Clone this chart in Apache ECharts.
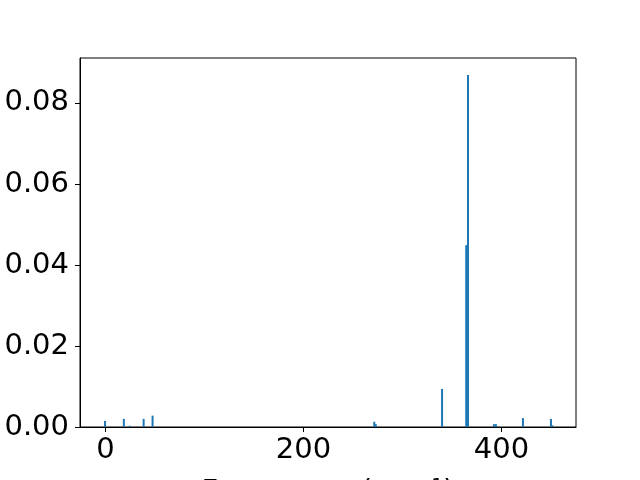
<!DOCTYPE html>
<html>
<head>
<meta charset="utf-8">
<script src="https://cdn.jsdelivr.net/npm/echarts@6/dist/echarts.min.js"></script>
<style>html,body{margin:0;padding:0;background:#fff}#c{width:640px;height:480px}</style>
</head>
<body>
<div id="c"></div>
<script>
// Frequencies (cm^-1) and intensities
var frequencies = [-0.5, 18.5, 24.4, 38.5, 47.5, 271.5, 273, 340, 364.4, 366.2, 392.4, 394.4, 421.7, 450, 451.5];
var intensities = [0.0015, 0.0020, 0.0003, 0.0020, 0.0028, 0.0013, 0.0007, 0.0094, 0.0449, 0.0869, 0.0007, 0.0007, 0.0022, 0.0020, 0.0004];
var xTicks = [0, 200, 400];
var yTicks = [0, 0.02, 0.04, 0.06, 0.08];

var data = frequencies.map(function (f, i) { return [f, intensities[i]]; });

var chart = echarts.init(document.getElementById('c'), null, {renderer: 'canvas'});
var font = 'DejaVu Sans';
chart.setOption({
  animation: false,
  backgroundColor: '#ffffff',
  grid: {left: 80, right: 64, top: 58, bottom: 53, containLabel: false, outerBoundsMode: 'none',
    show: true, borderColor: '#000', borderWidth: 1, backgroundColor: 'transparent'},
  xAxis: {
    type: 'value', min: -25.8, max: 475.3,
    name: 'Frequency (cm\u207B\u00B9)', nameLocation: 'middle', nameGap: 51,
    nameTextStyle: {fontFamily: font, fontSize: 29, color: '#000', verticalAlign: 'top'},
    axisLine: {show: true, onZero: false, lineStyle: {color: '#000', width: 1}},
    axisTick: {show: true, length: 5, customValues: xTicks, lineStyle: {color: '#000'}},
    axisLabel: {customValues: xTicks, fontFamily: font, fontSize: 29, color: '#000', margin: 9},
    splitLine: {show: false}
  },
  yAxis: {
    type: 'value', min: 0, max: 0.0911,
    axisLine: {show: true, onZero: false, lineStyle: {color: '#000', width: 1}},
    axisTick: {show: true, length: 5, customValues: yTicks, lineStyle: {color: '#000'}},
    axisLabel: {customValues: yTicks, fontFamily: font, fontSize: 29, color: '#000', margin: 11,
      formatter: function (v) { return v.toFixed(2); }},
    splitLine: {show: false}
  },
  series: [{
    type: 'bar',
    data: data,
    barWidth: 2,
    itemStyle: {color: '#1f77b4'}
  }]
});
</script>
</body>
</html>
